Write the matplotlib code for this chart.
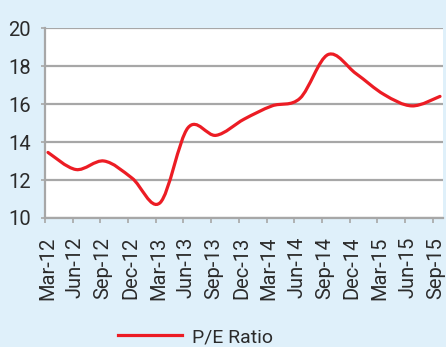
import matplotlib
matplotlib.use("Agg")
import matplotlib.pyplot as plt
import numpy as np
from matplotlib.lines import Line2D
from matplotlib.patches import PathPatch
from matplotlib.path import Path

# Quarterly P/E ratio readings
quarters = [
    "Mar-12", "Jun-12", "Sep-12", "Dec-12", "Mar-13", "Jun-13", "Sep-13",
    "Dec-13", "Mar-14", "Jun-14", "Sep-14", "Dec-14", "Mar-15", "Jun-15", "Sep-15",
]
pe_ratio = [13.45, 12.55, 13.0, 12.1, 10.8, 14.75, 14.35,
            15.2, 15.9, 16.3, 18.6, 17.6, 16.5, 15.9, 16.4]
y_ticks = [10, 12, 14, 16, 18, 20]

BG = "#dff0fa"
RED = "#ec1c24"
GREY = "#a7a7a7"
TEXT = "#2b2b2b"

plt.rcParams["font.family"] = ["Roboto", "DejaVu Sans"]


def smooth_path(xs, ys):
    """Catmull-Rom style cubic Bezier path through the points (like a smoothed line)."""
    pts = np.column_stack([xs, ys]).astype(float)
    ext = np.vstack([pts[0], pts, pts[-1]])
    verts = [tuple(pts[0])]
    codes = [Path.MOVETO]
    for i in range(1, len(ext) - 2):
        p0, p1, p2, p3 = ext[i - 1], ext[i], ext[i + 1], ext[i + 2]
        c1 = p1 + (p2 - p0) / 6.0
        c2 = p2 - (p3 - p1) / 6.0
        verts += [tuple(c1), tuple(c2), tuple(p2)]
        codes += [Path.CURVE4] * 3
    return Path(verts, codes)


fig = plt.figure(figsize=(4.46, 3.47), dpi=100, facecolor=BG)
ax = fig.add_axes([45 / 446, 1 - 218 / 347, 398 / 446, 190 / 347])
ax.set_facecolor("white")

x = np.arange(len(quarters))
ax.add_patch(PathPatch(smooth_path(x, pe_ratio), fill=False, edgecolor=RED,
                       linewidth=2.3, capstyle="round", zorder=3))

ax.set_xlim(-0.107, 14.107)
ax.set_ylim(10, 20)
ax.set_yticks(y_ticks)

# tick marks on the category boundaries, labels just to the right of them
boundaries = -0.107 + 0.989 * x
ax.set_xticks(boundaries + 0.095)
ax.set_xticklabels(quarters, rotation=90)
ax.set_xticks(boundaries, minor=True)

ax.yaxis.grid(True, color=GREY, linewidth=1.6)
ax.set_axisbelow(True)

for side in ("top", "right"):
    ax.spines[side].set_visible(False)
for side in ("left", "bottom"):
    ax.spines[side].set_color(GREY)
    ax.spines[side].set_linewidth(1.6)

ax.tick_params(axis="y", length=3, width=1.2, color=GREY, pad=7,
               labelsize=14.5, labelcolor=TEXT)
ax.tick_params(axis="x", which="major", length=0, pad=13.5,
               labelsize=14.5, labelcolor=TEXT)
ax.tick_params(axis="x", which="minor", length=3.5, width=1.2, color=GREY)

handle = Line2D([], [], color=RED, linewidth=2.3)
fig.legend([handle], ["P/E Ratio"], loc="center left",
           bbox_to_anchor=(118 / 446, 1 - 337 / 347), frameon=False,
           borderpad=0, borderaxespad=0, handlelength=3.3, handletextpad=0.5,
           fontsize=14, labelcolor=TEXT)

fig.savefig("out.png", dpi=100, facecolor=BG)
